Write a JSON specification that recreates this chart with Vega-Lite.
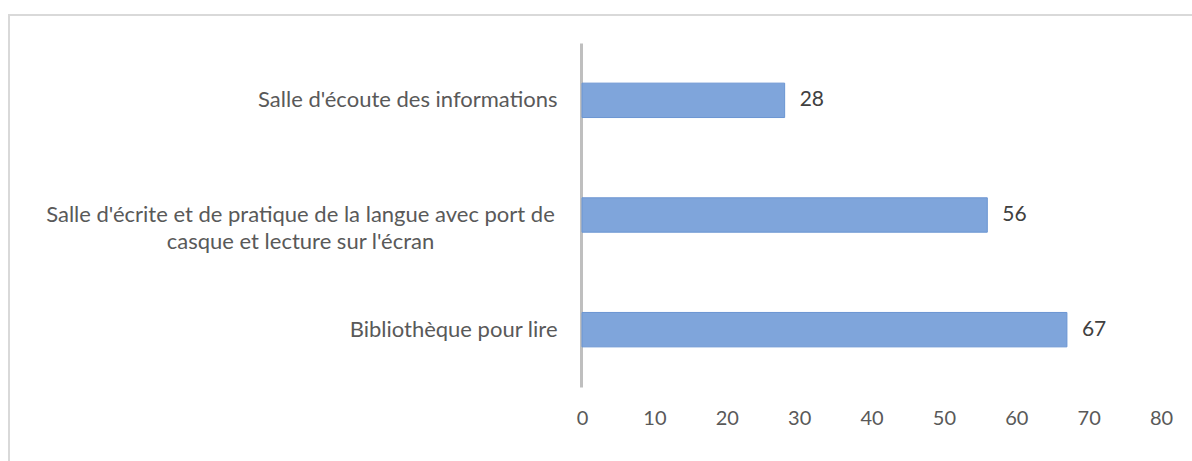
{
  "$schema": "https://vega.github.io/schema/vega-lite/v6.json",
  "autosize": "none",
  "width": 1200,
  "height": 460,
  "padding": {"left": 9, "top": 15, "right": 0, "bottom": 0},
  "background": "white",
  "config": {
    "view": {"stroke": "#d9d9d9", "strokeWidth": 2},
    "font": "Lato"
  },
  "data": {
    "values": [
      {"categorie": "Salle d'écoute des informations", "valeur": 28},
      {"categorie": "Salle d'écrite et de pratique de la langue avec port de casque et lecture sur l'écran", "valeur": 56},
      {"categorie": "Bibliothèque pour lire", "valeur": 67}
    ]
  },
  "encoding": {
    "y": {
      "field": "categorie",
      "type": "nominal",
      "sort": null,
      "scale": {"range": [28, 372], "paddingInner": 0.7, "paddingOuter": 0.35},
      "axis": {
        "title": null,
        "orient": "left",
        "offset": -572,
        "domainColor": "#bfbfbf",
        "domainWidth": 3,
        "ticks": false,
        "labelFont": "Lato",
        "labelFontSize": 22,
        "labelColor": "#595959",
        "labelLimit": 0,
        "labelLineHeight": 27,
        "labelExpr": "datum.value == 'Salle d\\'écrite et de pratique de la langue avec port de casque et lecture sur l\\'écran' ? ['Salle d\\'écrite et de pratique de la langue avec port de', 'casque et lecture sur l\\'écran'] : datum.label",
        "labelAlign": {"condition": {"test": "datum.value == 'Salle d\\'écrite et de pratique de la langue avec port de casque et lecture sur l\\'écran'", "value": "center"}, "value": "right"},
        "labelPadding": {"condition": {"test": "datum.value == 'Salle d\\'écrite et de pratique de la langue avec port de casque et lecture sur l\\'écran'", "value": 281}, "value": 24},
        "grid": false
      }
    }
  },
  "layer": [
    {
      "mark": {"type": "bar", "color": "#7fa5db", "stroke": "#6b95d2", "strokeWidth": 1},
      "encoding": {
        "x": {
          "field": "valeur",
          "type": "quantitative",
          "scale": {"domain": [0, 80], "range": [573, 1152]},
          "axis": {
            "title": null,
            "orient": "bottom",
            "offset": -57,
            "values": [0, 10, 20, 30, 40, 50, 60, 70, 80],
            "domain": false,
            "ticks": false,
            "tickSize": 0,
            "grid": false,
            "labelFlush": false,
            "labelPadding": 0,
            "labelBaseline": "middle",
            "labelFont": "Lato",
            "labelFontSize": 20,
            "labelColor": "#595959"
          }
        }
      }
    },
    {
      "mark": {"type": "text", "align": "left", "baseline": "middle", "dx": 15, "font": "Lato", "fontSize": 21, "color": "#404040"},
      "encoding": {
        "x": {"field": "valeur", "type": "quantitative"},
        "text": {"field": "valeur", "type": "quantitative"}
      }
    }
  ]
}
